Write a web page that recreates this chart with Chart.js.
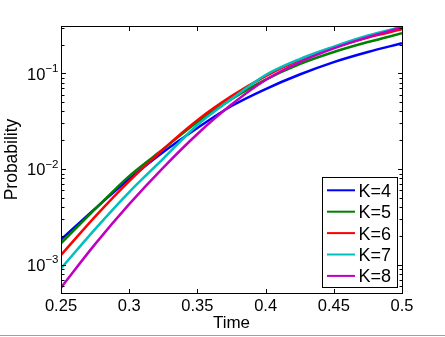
<!DOCTYPE html>
<html>
<head>
<meta charset="utf-8">
<script src="https://cdn.jsdelivr.net/npm/chart.js@4"></script>
<style>
  html, body { margin: 0; padding: 0; background: #fff; }
  canvas { display: block; }
</style>
</head>
<body>
<canvas id="probChart" width="445" height="337"></canvas>
<script>
// values
const times = [0.25, 0.275, 0.3, 0.325, 0.35, 0.375, 0.4, 0.425, 0.45, 0.475, 0.5];
const seriesLabels = ['K=4', 'K=5', 'K=6', 'K=7', 'K=8'];
const seriesColors = ['#0000ff', '#008000', '#ff0000', '#00bfbf', '#bf00bf'];
const probK4 = [0.00184, 0.00388, 0.00788, 0.0151, 0.0269, 0.0456, 0.0686, 0.0972, 0.131, 0.167, 0.206];
const probK5 = [0.00168, 0.00383, 0.00847, 0.0162, 0.0310, 0.0539, 0.0862, 0.125, 0.167, 0.212, 0.262];
const probK6 = [0.00127, 0.00320, 0.00751, 0.0162, 0.0325, 0.0579, 0.0937, 0.138, 0.186, 0.237, 0.288];
const probK7 = [0.00092, 0.00237, 0.00577, 0.0129, 0.0289, 0.0539, 0.0960, 0.141, 0.190, 0.248, 0.306];
const probK8 = [0.00058, 0.00165, 0.00432, 0.0104, 0.0233, 0.0472, 0.0851, 0.131, 0.182, 0.239, 0.301];
const xTicks = [0.25, 0.3, 0.35, 0.4, 0.45, 0.5];
const yTickExps = [-3, -2, -1];
const xRange = [0.25, 0.5];
const yRange = [5.1e-4, 0.312];

const allSeries = [probK4, probK5, probK6, probK7, probK8];
const FONT = "'Liberation Sans', Arial, Helvetica, sans-serif";

// box, inward ticks, superscript y labels and legend, drawn like matlab does
const matlabAxes = {
    id: 'matlabAxes',
    afterDatasetsDraw(chart) {
        const ctx = chart.ctx;
        const area = chart.chartArea;
        const xs = chart.scales.x;
        const ys = chart.scales.y;
        const L = Math.round(area.left), R = Math.round(area.right);
        const T = Math.round(area.top), B = Math.round(area.bottom);
        ctx.save();
        ctx.fillStyle = '#000';

        // box
        ctx.fillRect(L, T, R - L + 1, 1);
        ctx.fillRect(L, B, R - L + 1, 1);
        ctx.fillRect(L, T, 1, B - T + 1);
        ctx.fillRect(R, T, 1, B - T + 1);

        // x ticks (bottom + top)
        xTicks.forEach(v => {
            const px = Math.round(xs.getPixelForValue(v));
            ctx.fillRect(px, B - 4, 1, 4);
            ctx.fillRect(px, T + 1, 1, 4);
        });

        // y ticks, major + minor
        for (let e = yTickExps[0] - 1; e <= yTickExps[yTickExps.length - 1]; e++) {
            for (let m = 1; m <= 9; m++) {
                const v = m * Math.pow(10, e);
                if (v < yRange[0] || v > yRange[1]) continue;
                const py = Math.round(ys.getPixelForValue(v));
                const len = m === 1 ? 4 : 2.5;
                ctx.fillRect(L + 1, py, len, 1);
                ctx.fillRect(R - len, py, len, 1);
            }
        }

        // y labels 10^e
        yTickExps.forEach(e => {
            const py = ys.getPixelForValue(Math.pow(10, e));
            const expTxt = '\u2212' + Math.abs(e);
            ctx.font = '11.5px ' + FONT;
            const expW = ctx.measureText(expTxt).width;
            const baseRight = 58.5 - expW;
            ctx.textBaseline = 'alphabetic';
            ctx.textAlign = 'left';
            ctx.fillText(expTxt, baseRight, py - 1.6);
            ctx.font = '16.5px ' + FONT;
            ctx.textAlign = 'right';
            ctx.fillText('10', baseRight, py + 6.2);
        });

        // legend
        const bx = 322, by = 177, bw = 75, bh = 110;
        ctx.fillStyle = '#fff';
        ctx.fillRect(bx, by, bw, bh);
        ctx.strokeStyle = '#000';
        ctx.lineWidth = 1;
        ctx.strokeRect(bx + 0.5, by + 0.5, bw, bh);
        ctx.font = '18px ' + FONT;
        ctx.textAlign = 'left';
        ctx.textBaseline = 'alphabetic';
        chart.data.datasets.forEach((ds, i) => {
            const ry = by + 13.3 + i * 21.4;
            ctx.strokeStyle = ds.borderColor;
            ctx.lineWidth = 2;
            ctx.beginPath();
            ctx.moveTo(bx + 5, ry);
            ctx.lineTo(bx + 33, ry);
            ctx.stroke();
            ctx.fillStyle = '#000';
            ctx.fillText(ds.label, bx + 36.5, ry + 6.4);
        });

        // grey frame line at the bottom of the figure
        ctx.fillStyle = '#a0a0a0';
        ctx.fillRect(0, 335, chart.width, 1);
        ctx.restore();
    }
};

new Chart(document.getElementById('probChart'), {
    type: 'line',
    data: {
        datasets: seriesLabels.map((lab, i) => ({
            label: lab,
            data: times.map((t, j) => ({ x: t, y: allSeries[i][j] })),
            borderColor: seriesColors[i],
            backgroundColor: seriesColors[i],
            borderWidth: 2.5,
            pointRadius: 0,
            fill: false,
            cubicInterpolationMode: 'monotone',
            order: seriesLabels.length - i,
        })),
    },
    options: {
        responsive: false,
        animation: false,
        devicePixelRatio: 1,
        layout: { padding: { left: 0, right: 43, top: 26, bottom: 0 } },
        plugins: {
            legend: { display: false },
            tooltip: { enabled: false },
        },
        scales: {
            x: {
                type: 'linear',
                min: xRange[0],
                max: xRange[1],
                afterBuildTicks: s => { s.ticks = xTicks.map(v => ({ value: v })); },
                afterFit: s => { s.height = 44; },
                grid: { display: false, drawTicks: false },
                border: { display: false },
                ticks: {
                    color: '#000',
                    padding: 4,
                    maxRotation: 0,
                    autoSkip: false,
                    font: { family: FONT, size: 16.5 },
                    callback: v => String(Math.round(v * 100) / 100),
                },
                title: {
                    display: true,
                    text: 'Time',
                    color: '#000',
                    font: { family: FONT, size: 17 },
                    padding: { top: 0, bottom: 3 },
                },
            },
            y: {
                type: 'logarithmic',
                min: yRange[0],
                max: yRange[1],
                afterFit: s => { s.width = 61; },
                grid: { display: false, drawTicks: false },
                border: { display: false },
                ticks: { display: false },
                title: {
                    display: true,
                    text: 'Probability',
                    color: '#000',
                    font: { family: FONT, size: 17.5 },
                    padding: { top: 1.2, bottom: 0 },
                },
            },
        },
    },
    plugins: [matlabAxes],
});
</script>
</body>
</html>
